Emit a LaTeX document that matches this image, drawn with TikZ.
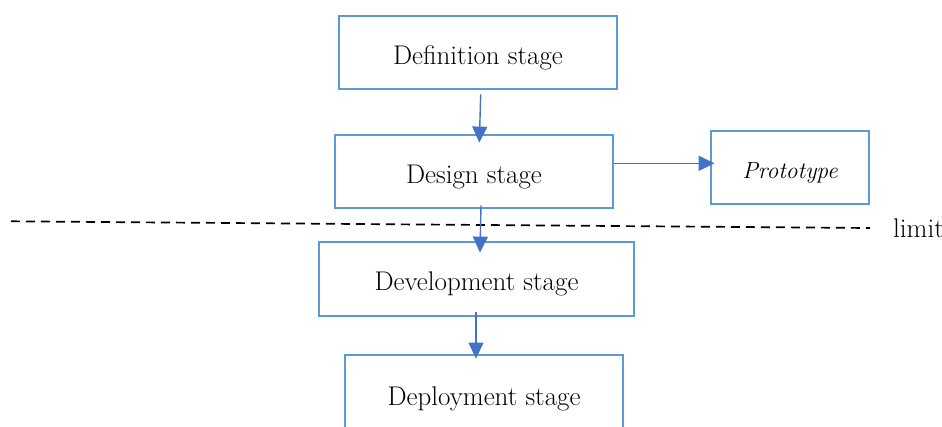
\documentclass[tikz,border=0pt]{standalone}
\usetikzlibrary{arrows.meta}
\definecolor{boxblue}{HTML}{5B9BD5}
\definecolor{arrowblue}{HTML}{4472C4}
\tikzset{
  stage/.style={draw=boxblue, line width=2.8pt, fill=white, inner sep=0pt,
    minimum height=73pt, text height=23.2pt, text depth=0pt,
    font=\fontsize{27}{31}\selectfont},
  flow/.style={draw=arrowblue, line width=1.4pt,
    -{Triangle[length=16pt,width=15pt]}},
  limitline/.style={draw=black, line width=1.7pt, dash pattern=on 9pt off 6pt},
}
\begin{document}
\begin{tikzpicture}[x=1pt, y=-1pt]
  \useasboundingbox (0,0) rectangle (942,426);
  \clip (0,0) rectangle (942,426);

  % dashed boundary
  \coordinate (limA) at (11,221.3);
  \coordinate (limB) at (870,228);
  \draw[limitline] (limA) -- (limB);
  \node[anchor=base west, inner sep=0pt, font=\fontsize{27}{31}\selectfont]
    (limit) at (893,237) {limit};

  % stages
  \node[stage, minimum width=278pt] (def) at (478,52.5) {Definition stage};
  \node[stage, minimum width=278pt] (des) at (474,171.5) {Design stage};
  \node[stage, minimum width=158pt, text height=21.6pt,
        font=\fontsize{23.5}{27}\selectfont\itshape] (proto) at (790,167.5) {Prototype};
  \node[stage, minimum width=315pt, minimum height=74pt] (dev) at (476.5,279) {Development stage};
  \node[stage, minimum width=278pt, minimum height=78pt] (dep) at (484,394) {Deployment stage};

  % connectors
  \draw[flow] ([xshift=2.7pt,yshift=-4pt]def.south) -- ([xshift=5.3pt,yshift=-9pt]des.north);
  \draw[flow] ([yshift=8.2pt]des.east) -- ([xshift=5pt,yshift=4.2pt]proto.west);
  \draw[flow] ([xshift=7pt,yshift=4pt]des.south) -- ([xshift=3.5pt,yshift=-12pt]dev.north);
  \draw[flow] ([xshift=-0.5pt,yshift=5pt]dev.south) -- ([xshift=-8pt,yshift=-5pt]dep.north);
\end{tikzpicture}
\end{document}
